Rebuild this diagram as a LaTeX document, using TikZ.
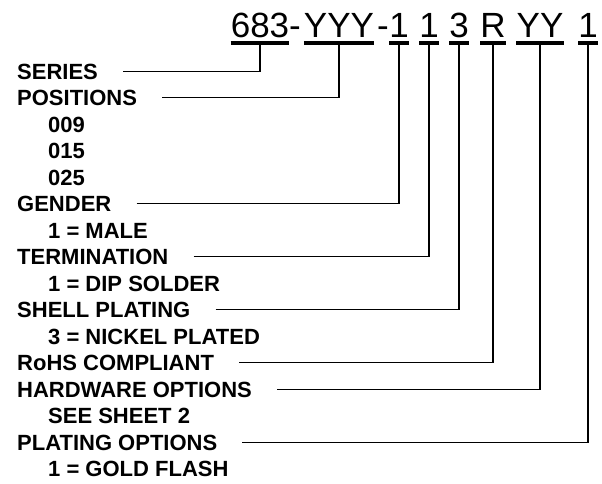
\documentclass[tikz,border=0pt]{standalone}
\usepackage{fontspec}
\setmainfont{Liberation Sans}
\usetikzlibrary{matrix}

\begin{document}
\begin{tikzpicture}[x=1pt,y=-1pt,
            every node/.style={inner sep=0pt},
            part/.style={font=\fontsize{35}{40}\selectfont, anchor=base},
            uline/.style={line width=3.5pt},
            lead/.style={line width=1.3pt},
            sub/.style={xshift=31pt}]
            \useasboundingbox (0,0) rectangle (602,483);

            % part number
            \node[part] (p683) at (260,37) {683};
            \node[part] (d1) at (295,37) {-};
            \node[part] (pYYY) at (339,37) {YYY};
            \node[part] (d2) at (383,37) {-};
            \node[part] (pGen) at (399,37) {1};
            \node[part] (pTer) at (429,37) {1};
            \node[part] (pShe) at (459,37) {3};
            \node[part] (pR) at (493,37) {R};
            \node[part] (pYY) at (540,37) {YY};
            \node[part] (pPla) at (588,37) {1};
            \foreach \g in {p683,pYYY,pGen,pTer,pShe,pR,pYY,pPla}
                \draw[uline] ([yshift=-6pt]\g.base west) -- ([yshift=-6pt]\g.base east);

            \matrix (m) [matrix of nodes, inner sep=0pt, anchor=north west,
                row sep=5.5pt,
                nodes={anchor=west, font=\bfseries\fontsize{22}{26}\selectfont,
                    text height=16pt, text depth=5pt}
            ] at (17,63)
            {
                SERIES \\
                POSITIONS \\
                |[sub]| 009 \\
                |[sub]| 015 \\
                |[sub]| 025 \\
                GENDER \\
                |[sub]| 1 = MALE \\
                TERMINATION \\
                |[sub]| 1 = DIP SOLDER \\
                SHELL PLATING \\
                |[sub]| 3 = NICKEL PLATED \\
                RoHS COMPLIANT \\
                HARDWARE OPTIONS \\
                |[sub]| SEE SHEET 2 \\
                PLATING OPTIONS \\
                |[sub]| 1 = GOLD FLASH \\
            };

            \foreach \r/\g in {1/p683,2/pYYY,6/pGen,8/pTer,10/pShe,12/pR,13/pYY,15/pPla}
                \draw[lead] ([xshift=25pt,yshift=8pt]m-\r-1.base east) -| ([yshift=-6pt]\g.base);

        \end{tikzpicture}
\end{document}
